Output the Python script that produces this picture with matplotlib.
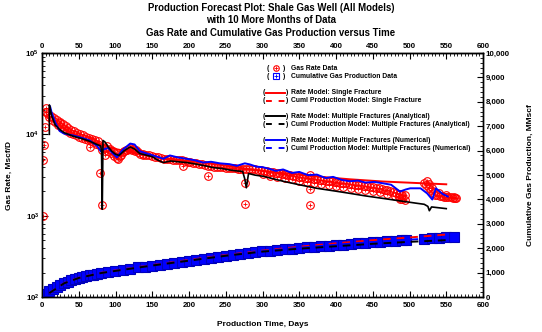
"""
Production forecast plot: gas rate and cumulative gas production vs time.
"""

import matplotlib

matplotlib.use("Agg")
import matplotlib.pyplot as plt
from matplotlib.lines import Line2D
from matplotlib.ticker import FuncFormatter, MultipleLocator

plt.rcParams["font.family"] = ["Liberation Sans", "DejaVu Sans"]
plt.rcParams["font.weight"] = "bold"

# --- measured gas rate (Mscf/D) ---
rate_days = [6, 10, 14, 18, 22, 26, 30, 34, 38, 42, 46, 50, 54, 58, 62, 66, 70, 74, 78,
             82, 86, 90, 94, 98, 102, 106, 110, 114, 118, 122, 126, 130, 134, 138, 142,
             146, 150, 154, 158, 162, 166, 170, 174, 178, 182, 186, 190, 194, 198, 202,
             206, 210, 214, 218, 222, 226, 230, 234, 238, 242, 246, 250, 254, 258, 262,
             266, 270, 274, 278, 282, 286, 290, 294, 298, 302, 306, 310, 314, 318, 322,
             326, 330, 334, 338, 342, 346, 350, 354, 358, 362, 366, 370, 374, 378, 382,
             386, 390, 394, 398, 402, 406, 410, 414, 418, 422, 426, 430, 434, 438, 442,
             446, 450, 454, 458, 462, 466, 470, 474, 478, 482, 486, 490, 494,
             520, 523, 526, 529, 532, 535, 538, 541, 544, 547, 550, 553, 556, 559, 562]
rate_vals = [19000, 16500, 15000, 14000, 13000, 12300, 11600, 11000, 10500, 10100, 9700,
             9400, 9100, 8800, 8500, 8300, 8000, 7700, 7300, 6500, 6800, 6300, 5900, 5400,
             5100, 5400, 6000, 6400, 6600, 6500, 6200, 6000, 5800, 5700, 5600, 5500, 5400,
             5300, 5200, 5100, 5000, 5000, 5000, 4900, 4900, 4800, 4800, 4700, 4600, 4600,
             4500, 4400, 4300, 4300, 4200, 4100, 4100, 4000, 4000, 3950, 3950, 3900, 3900,
             3850, 3850, 3800, 3800, 3750, 3700, 3800, 3750, 3700, 3650, 3600, 3550, 3500,
             3450, 3400, 3350, 3300, 3280, 3250, 3200, 3150, 3100, 3050, 3000, 2970, 2930,
             2900, 2870, 2830, 2800, 2770, 2730, 2700, 2670, 2640, 2610, 2580, 2550, 2520,
             2500, 2470, 2440, 2410, 2380, 2350, 2320, 2290, 2260, 2230, 2200, 2160, 2120,
             2080, 2040, 2000, 1960, 1920, 1870, 1820, 1780,
             2500, 2350, 2200, 2050, 1900, 1820, 1780, 1750, 1730, 1710, 1700, 1690, 1680,
             1670, 1650]
# second row of readings that gives the data band its width
scatter_days = [8, 12, 16, 20, 24, 28, 32, 36, 40, 44, 48, 52, 56, 60, 64, 68, 72, 76, 88,
                92, 96, 100, 104, 108, 112, 116, 120, 124, 128,
                300, 310, 320, 330, 340, 350, 360, 370, 380, 390, 400, 410, 420, 430, 440,
                450, 460, 470, 480, 486, 490, 494, 530, 540, 550, 560]
scatter_vals = [18000, 17000, 16000, 15000, 14200, 13300, 12600, 12000, 11400, 10900,
                10500, 10100, 9700, 9400, 9100, 8800, 8500, 8200, 7200, 6600, 6200, 5800,
                5000, 5500, 6300, 6500, 6700, 6600, 6400,
                3250, 3100, 3000, 2900, 2800, 2700, 2600, 2520, 2450, 2380, 2300, 2240,
                2180, 2120, 2060, 2000, 1930, 1850, 1750, 1680, 1620, 1580, 2200, 1880,
                1780, 1720]
# scattered outlier readings
outlier_days = [1, 2, 3, 4, 5, 5, 24, 65, 79, 82, 86, 137, 192, 226, 276, 276, 365, 365,
                365, 487, 487, 524, 527, 563]
outlier_vals = [1000, 4800, 7300, 12200, 18700, 21000, 13600, 6900, 3300, 1370, 5600,
                5500, 4100, 3100, 2500, 1400, 3200, 2150, 1370, 1850, 1600, 2650, 2450,
                1650]

# --- measured cumulative production (MMscf) ---
cum_days = [0, 5, 10, 15, 20, 25, 30, 35, 40, 45, 50, 55, 60, 65, 70, 75, 80, 90, 100, 110,
            120, 130, 140, 150, 160, 170, 180, 190, 200, 210, 220, 230, 240, 250, 260, 270,
            280, 290, 300, 310, 320, 330, 340, 350, 360, 370, 380, 390, 400, 410, 420, 430,
            440, 450, 460, 470, 480, 490, 495, 520, 530, 540, 550, 560]
cum_vals = [20, 130, 230, 320, 410, 490, 560, 620, 680, 730, 780, 820, 860, 890, 920, 950,
            980, 1020, 1070, 1110, 1160, 1210, 1250, 1290, 1330, 1370, 1410, 1450, 1490,
            1530, 1570, 1610, 1650, 1690, 1720, 1760, 1800, 1840, 1870, 1900, 1930, 1950,
            1980, 2000, 2030, 2050, 2080, 2100, 2120, 2150, 2170, 2200, 2220, 2240, 2260,
            2290, 2310, 2330, 2340, 2390, 2410, 2430, 2450, 2460]

# --- rate models ---
single_days = [10, 15, 20, 30, 40, 60, 80, 100, 130, 160, 200, 230, 260, 283, 328, 374,
               419, 464, 510, 550]
single_rate = [21000, 16000, 14000, 11800, 10500, 8700, 7500, 6600, 5800, 5200, 4700, 4350,
               4000, 3700, 3330, 3030, 2800, 2630, 2520, 2430]

analytic_days = [10, 10, 11, 13, 18, 24, 30, 42, 55, 65, 75, 80, 81, 82, 83, 86, 90, 95,
                 100, 105, 112, 120, 126, 133, 140, 150, 158, 165, 175, 185, 197, 210, 222,
                 233, 245, 255, 265, 273, 276, 278, 281, 290, 301, 328, 350, 374, 400, 419,
                 440, 464, 487, 510, 520, 525, 527, 530, 540, 550]
analytic_rate = [10000, 23000, 21000, 17000, 13000, 11500, 10500, 9500, 8800, 8200, 7500,
                 7200, 6000, 1200, 8400, 8000, 7000, 6200, 5700, 5500, 6300, 7000, 6600,
                 5800, 5600, 5300, 4800, 4500, 4700, 4600, 4500, 4300, 4100, 3900, 3800,
                 3650, 3550, 3500, 2800, 2200, 3300, 3150, 3050, 2650, 2400, 2170, 2000,
                 1880, 1750, 1630, 1520, 1420, 1380, 1300, 1150, 1280, 1250, 1220]

numeric_days = [11, 13, 18, 24, 30, 42, 55, 65, 75, 80, 85, 90, 95, 102, 110, 120, 126, 133,
                140, 151, 160, 165, 174, 185, 197, 208, 219, 230, 242, 255, 265, 276, 283,
                292, 300, 310, 318, 328, 340, 350, 362, 374, 386, 396, 408, 419, 430, 440,
                452, 464, 475, 487, 495, 501, 515, 524, 531, 536, 545, 552]
numeric_rate = [22000, 18700, 14000, 11000, 10200, 9700, 9000, 8400, 7200, 6200, 6600, 6800,
                6000, 5200, 6500, 7700, 7500, 6200, 5900, 5500, 5200, 5000, 5500, 5200, 5000,
                4800, 4500, 4600, 4400, 4300, 4100, 4400, 4260, 4000, 3950, 3750, 3550, 3700,
                3350, 3450, 3150, 3200, 2900, 3000, 2750, 2650, 2700, 2550, 2600, 2500, 2400,
                1980, 2100, 2170, 2170, 1880, 1580, 2170, 1850, 1720]

# --- cumulative models ---
model_cum_days = [10, 30, 50, 80, 100, 150, 200, 250, 300, 350, 400, 450, 500, 550]
single_cum = [160, 570, 790, 990, 1090, 1310, 1520, 1720, 1900, 2060, 2200, 2330, 2440, 2560]
analytic_cum = [160, 560, 780, 980, 1070, 1290, 1490, 1690, 1860, 1980, 2080, 2180, 2260, 2330]
numeric_cum = [160, 565, 785, 985, 1080, 1300, 1500, 1700, 1880, 2020, 2140, 2250, 2350, 2440]

W, H = 542, 332


def fx(px):
    return px / W


def fy(py):
    return 1 - py / H


fig = plt.figure(figsize=(5.42, 3.32), dpi=100)
ax = fig.add_axes([fx(42), fy(297), fx(483) - fx(42), fy(53) - fy(297)])
ax2 = ax.twinx()

# rate data
for d, v in ((rate_days, rate_vals), (scatter_days, scatter_vals),
             (outlier_days, outlier_vals)):
    ax.plot(d, v, "o", ms=5.5, mfc="none", mec="red", mew=0.8, zorder=2)
    ax.plot(d, v, "+", ms=2.5, mec="red", mew=0.6, zorder=2)

ax.plot(single_days, single_rate, color="red", lw=1.4, zorder=3)
ax.plot(numeric_days, numeric_rate, color="blue", lw=1.4, zorder=4)
ax.plot(analytic_days, analytic_rate, color="black", lw=1.2, zorder=5)

ax.set_yscale("log")
ax.set_ylim(100, 1e5)
ax.set_xlim(0, 600)

# cumulative data and models
ax2.plot(cum_days, cum_vals, "s", ms=7, mfc="blue", mec="#0000bb", mew=0.8, zorder=2)
ax2.plot(model_cum_days, single_cum, color="red", lw=1.4, ls=(0, (4, 3)), zorder=3)
ax2.plot(model_cum_days, numeric_cum, color="blue", lw=1.4, ls=(0, (4, 3)), zorder=4)
ax2.plot(model_cum_days, analytic_cum, color="black", lw=1.4, ls=(0, (4, 3)), zorder=5)
ax2.set_ylim(0, 10000)
ax2.yaxis.set_major_locator(MultipleLocator(1000))
ax2.yaxis.set_minor_locator(MultipleLocator(200))
ax2.yaxis.set_major_formatter(FuncFormatter(lambda v, p: f"{int(v):,}"))

# top axis with labels
top = ax.secondary_xaxis("top")
for a in (ax.xaxis, top.xaxis):
    a.set_major_locator(MultipleLocator(50))
    a.set_minor_locator(MultipleLocator(5))

for a in (ax, ax2, top):
    a.tick_params(which="major", direction="in", length=4, width=0.8, labelsize=5.7, pad=2)
    a.tick_params(which="minor", direction="in", length=2, width=0.6)
ax.tick_params(axis="x", which="major", pad=3.5)
ax.tick_params(axis="y", which="both", right=False)
ax.tick_params(axis="x", which="both", top=False)
ax2.tick_params(axis="x", which="both", top=False, bottom=False)
for a in (ax, ax2):
    for s in a.spines.values():
        s.set_linewidth(1.0)

ax.set_xlabel("Production Time, Days", fontsize=6, fontweight="bold", labelpad=9)
ax.set_ylabel("Gas Rate, Mscf/D", fontsize=6, fontweight="bold", labelpad=9)
ax2.set_ylabel("Cumulative Gas Production, MMscf", fontsize=6, fontweight="bold",
               labelpad=12)

fig.text(0.5, fy(3), "Production Forecast Plot: Shale Gas Well (All Models)\n"
         "with 10 More Months of Data\nGas Rate and Cumulative Gas Production versus Time",
         ha="center", va="top", fontsize=6.9, fontweight="bold", linespacing=1.3)

# hand-drawn style legend
leg_fs = 4.9
marker_rows = [(68.3, "o", "red", "Gas Rate Data"),
               (76, "s", "blue", "Cumulative Gas Production Data")]
for y, mk, col, txt in marker_rows:
    fig.text(fx(267), fy(y), "(", fontsize=leg_fs, va="center", ha="left")
    fig.text(fx(282.5), fy(y), ")", fontsize=leg_fs, va="center", ha="left")
    fig.add_artist(Line2D([fx(276)], [fy(y)], marker=mk, ms=4, mfc="none", mec=col,
                          mew=0.8, transform=fig.transFigure))
    fig.add_artist(Line2D([fx(276)], [fy(y)], marker="+", ms=2.5, mec=col, mew=0.6,
                          transform=fig.transFigure))
    fig.text(fx(290.7), fy(y), txt, fontsize=leg_fs, va="center", ha="left")

line_rows = [(92.7, "red", "-", "Rate Model: Single Fracture"),
             (100.7, "red", "--", "Cuml Production Model: Single Fracture"),
             (116.3, "black", "-", "Rate Model: Multiple Fractures (Analytical)"),
             (124.3, "black", "--", "Cuml Production Model: Multiple Fractures (Analytical)"),
             (140, "blue", "-", "Rate Model: Multiple Fractures (Numerical)"),
             (148, "blue", "--", "Cuml Production Model: Multiple Fractures (Numerical)")]
for y, col, ls, txt in line_rows:
    fig.text(fx(263), fy(y), "(", fontsize=leg_fs, va="center", ha="left")
    fig.add_artist(Line2D([fx(266), fx(285)], [fy(y), fy(y)], color=col, lw=1.4,
                          ls=ls if ls == "-" else (0, (3, 3.5)), transform=fig.transFigure))
    fig.text(fx(285.5), fy(y), ")", fontsize=leg_fs, va="center", ha="left")
    fig.text(fx(290.7), fy(y), txt, fontsize=leg_fs, va="center", ha="left")

fig.savefig("out.png", dpi=100)
